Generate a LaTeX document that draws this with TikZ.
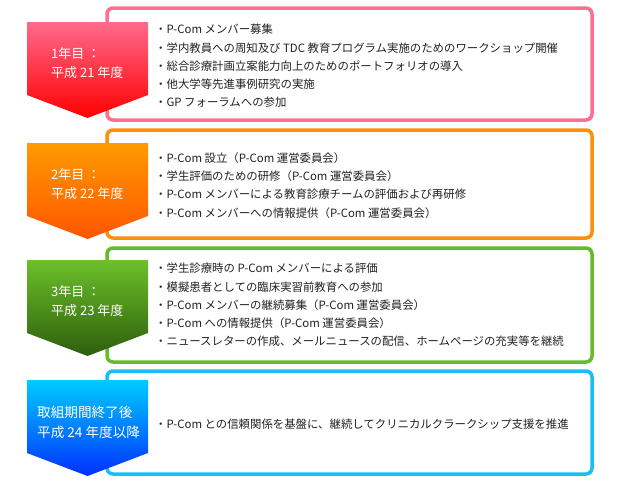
\documentclass[tikz,border=0pt]{standalone}
\usepackage{fontspec}
\setmainfont{Noto Sans CJK JP}
\usepackage{xcolor}
\usepackage{tikz}
\definecolor{ink}{HTML}{222222}
\definecolor{pinkline}{HTML}{FF6F91}
\definecolor{pinktop}{HTML}{FF6A8C}
\definecolor{redbottom}{HTML}{FF0000}
\definecolor{orangeline}{HTML}{FF8E0A}
\definecolor{orangetop}{HTML}{FF9A00}
\definecolor{orangebottom}{HTML}{FF5500}
\definecolor{greenline}{HTML}{66BB2A}
\definecolor{greentop}{HTML}{6CC02A}
\definecolor{greenbottom}{HTML}{2E5E0E}
\definecolor{cyanline}{HTML}{18BFF5}
\definecolor{cyantop}{HTML}{00CCFF}
\definecolor{cyanbottom}{HTML}{0030FF}
% pentagon pointing down, #1 = top edge
\newcommand{\yeararrow}[3]{%
  \shade[top color=#2,bottom color=#3]
    (27,#1) -- (148,#1) -- (148,#1+73) -- (87.5,#1+96) -- (27,#1+73) -- cycle;}

\begin{document}
\begin{tikzpicture}[x=1pt,y=-1pt,
  every node/.style={inner sep=0pt},
  panel/.style={line width=3.5pt,rounded corners=6pt,fill=white},
  items/.style={anchor=west,align=left,text=ink,font=\fontsize{11.4}{18.2}\selectfont},
  yeartext/.style={anchor=west,align=left,text=white,font=\fontsize{13}{19}\selectfont}]
  \useasboundingbox (0,0) rectangle (620,490);

  % 1年目
  \draw[panel,draw=pinkline] (107,8) rectangle (592,120);
  \yeararrow{22}{pinktop}{redbottom}
  \node[yeartext] (year1) at (51,63.5) {1年目 ：\\平成 21 年度};
  \node[items] (list1) at (155,66) {・P-Com メンバー募集\\
    ・学内教員への周知及び TDC 教育プログラム実施のためのワークショップ開催\\
    ・総合診療計画立案能力向上のためのポートフォリオの導入\\
    ・他大学等先進事例研究の実施\\
    ・GP フォーラムへの参加};

  % 2年目
  \draw[panel,draw=orangeline] (107,130) rectangle (592,238);
  \yeararrow{143}{orangetop}{orangebottom}
  \node[yeartext] (year2) at (51,184) {2年目 ：\\平成 22 年度};
  \node[items] (list2) at (155,185.5) {・P-Com 設立（P-Com 運営委員会）\\
    ・学生評価のための研修（P-Com 運営委員会）\\
    ・P-Com メンバーによる教育診療チームの評価および再研修\\
    ・P-Com メンバーへの情報提供（P-Com 運営委員会）};

  % 3年目
  \draw[panel,draw=greenline] (107,248) rectangle (592,362);
  \yeararrow{260}{greentop}{greenbottom}
  \node[yeartext] (year3) at (51,301.5) {3年目 ：\\平成 23 年度};
  \node[items] (list3) at (155,305) {・学生診療時の P-Com メンバーによる評価\\
    ・模擬患者としての臨床実習前教育への参加\\
    ・P-Com メンバーの継続募集（P-Com 運営委員会）\\
    ・P-Com への情報提供（P-Com 運営委員会）\\
    ・ニュースレターの作成、メールニュースの配信、ホームページの充実等を継続};

  % 取組期間終了後
  \draw[panel,draw=cyanline] (107,371) rectangle (592,474);
  \yeararrow{380}{cyantop}{cyanbottom}
  \node[yeartext,font=\fontsize{13.6}{19.5}\selectfont] (year4) at (37,422.5)
    {取組期間終了後\\平成 24 年度以降};
  \node[items] (list4) at (155,424) {・P-Com との信頼関係を基盤に、継続してクリニカルクラークシップ支援を推進};
\end{tikzpicture}
\end{document}
